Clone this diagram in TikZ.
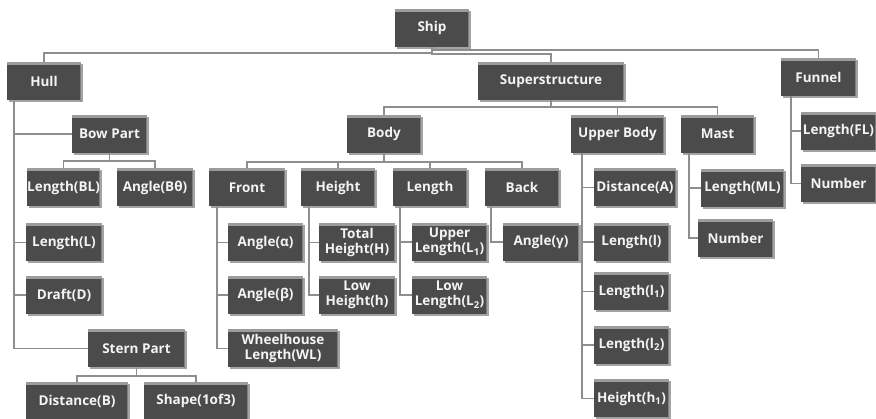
\documentclass[tikz,border=0pt]{standalone}
\usepackage{fontspec}
\setmainfont{Open Sans}
\usetikzlibrary{shadows}
\definecolor{boxfill}{HTML}{4B4B4B}
\definecolor{bevel}{HTML}{9C9C9C}
\definecolor{edgecol}{HTML}{808080}
\definecolor{wirecol}{HTML}{8E8E8E}
\definecolor{labelcol}{HTML}{F4F4F4}

\tikzset{
  box/.style={rectangle, fill=boxfill, text=labelcol,
    font=\bfseries\fontsize{13.5}{15.5}\selectfont, align=center,
    inner sep=0pt, minimum height=38pt, minimum width=#1,
    drop shadow={shadow xshift=1.8pt, shadow yshift=-1.8pt, fill=black!45, opacity=0.8}},
  box/.default=75pt,
  wire/.style={draw=wirecol, line width=1.8pt}
}

\begin{document}
\begin{tikzpicture}[x=1pt, y=-1pt]
\useasboundingbox (0,0) rectangle (876,419);

% level 0 and 1
\node[box=74pt]  (ship)   at (432,28)    {Ship};
\node[box=74pt]  (hull)   at (44,81.5)   {Hull};
\node[box=146pt] (sup)    at (551,81)    {Superstructure};
\node[box=75pt]  (funnel) at (818.5,77)  {Funnel};

% level 2
\node[box=75pt]  (bow)    at (109.5,134) {Bow Part};
\node[box=74pt]  (body)   at (384,134)   {Body};
\node[box=93pt]  (ubody)  at (617.5,134) {Upper Body};
\node[box=73pt]  (mast)   at (717.5,134) {Mast};
\node[box=75pt]  (fl)     at (838.5,131) {Length(FL)};
\node[box=75pt]  (fnum)   at (838.5,183.5) {Number};

% level 3
\node[box=73pt]  (bl)     at (63.5,187.5) {Length(BL)};
\node[box=76pt]  (bth)    at (155,187.5)  {Angle(Bθ)};
\node[box=76pt]  (front)  at (247,187.5)  {Front};
\node[box=74pt]  (height) at (338,187.5)  {Height};
\node[box=74pt]  (len)    at (430,187.5)  {Length};
\node[box=74pt]  (back)   at (522,187.5)  {Back};
\node[box=82pt]  (dista)  at (635,187.5)  {Distance(A)};
\node[box=83pt]  (ml)     at (742.5,188)  {Length(ML)};
\node[box=75pt]  (mnum)   at (735.5,238)  {Number};

% level 4
\node[box=76pt]  (ll)     at (64,242.5)    {Length(L)};
\node[box=75pt]  (alpha)  at (265.5,242.5) {Angle(α)};
\node[box=76pt]  (toth)   at (357,242.5)   {Total\\Height(H)};
\node[box=75pt]  (upl)    at (449.5,242)   {Upper\\Length(L\textsubscript{1})};
\node[box=76pt]  (gamma)  at (541,242)     {Angle(γ)};
\node[box=75pt]  (lsm)    at (631.5,242)   {Length(l)};

% level 5
\node[box=76pt]  (draft)  at (64,295)      {Draft(D)};
\node[box=75pt]  (beta)   at (265.5,295)   {Angle(β)};
\node[box=76pt]  (lowh)   at (357,295)     {Low\\Height(h)};
\node[box=75pt]  (lowl)   at (449.5,295)   {Low\\Length(L\textsubscript{2})};
\node[box=75pt]  (lone)   at (631.5,291.5) {Length(l\textsubscript{1})};

% level 6
\node[box=97pt]  (stern)  at (136.5,348.5) {Stern Part};
\node[box=110pt] (wl)     at (283,348.5)   {Wheelhouse\\Length(WL)};
\node[box=75pt]  (ltwo)   at (631.5,345)   {Length(l\textsubscript{2})};

% level 7
\node[box=102pt] (distb)  at (77,401)      {Distance(B)};
\node[box=104pt] (shape)  at (196,401)     {Shape(1of3)};
\node[box=75pt]  (hone)   at (631.5,398.5) {Height(h\textsubscript{1})};

% bevelled top edge and lighter right edge of every box
\foreach \n in {ship,hull,sup,funnel,bow,body,ubody,mast,fl,fnum,
                bl,bth,front,height,len,back,dista,ml,mnum,
                ll,alpha,toth,upl,gamma,lsm,draft,beta,lowh,lowl,lone,
                stern,wl,ltwo,distb,shape,hone}{
  \fill[bevel] (\n.north west) rectangle ([yshift=-3pt]\n.north east);
  \fill[edgecol] ([xshift=-1.5pt,yshift=-3pt]\n.north east) rectangle (\n.south east);
}

% connectors from the root
\draw[wire] (ship.south) -- ++(0,6) -| (hull.north);
\draw[wire] (ship.south) -- ++(0,3) -| (funnel.north);
\draw[wire] (ship.south) -- ++(0,7) -| (sup.north);

% hull spine
\foreach \c in {bow, ll, draft, stern}
  \draw[wire] ([xshift=7pt]hull.south west) |- (\c.west);

% bow part
\foreach \c in {bl, bth}
  \draw[wire] (bow.south) -- ++(0,8) -| (\c.north);

% superstructure
\foreach \c in {body, ubody, mast}
  \draw[wire] (sup.south) -- ++(0,7) -| (\c.north);

% body
\foreach \c in {front, height, len, back}
  \draw[wire] (body.south) -- ++(0,9) -| (\c.north);

% spines under the body parts
\foreach \c in {alpha, beta, wl}
  \draw[wire] ([xshift=8pt]front.south west) |- (\c.west);
\foreach \c in {toth, lowh}
  \draw[wire] ([xshift=8pt]height.south west) |- (\c.west);
\foreach \c in {upl, lowl}
  \draw[wire] ([xshift=7pt]len.south west) |- (\c.west);
\draw[wire] ([xshift=6pt]back.south west) |- (gamma.west);

% upper body, mast and funnel spines
\foreach \c in {dista, lsm, lone, ltwo, hone}
  \draw[wire] ([xshift=11pt]ubody.south west) |- (\c.west);
\foreach \c in {ml, mnum}
  \draw[wire] ([xshift=8pt]mast.south west) |- (\c.west);
\foreach \c in {fl, fnum}
  \draw[wire] ([xshift=10pt]funnel.south west) |- (\c.west);

% stern part
\foreach \c in {distb, shape}
  \draw[wire] (stern.south) -- ++(0,8) -| (\c.north);
\end{tikzpicture}
\end{document}
